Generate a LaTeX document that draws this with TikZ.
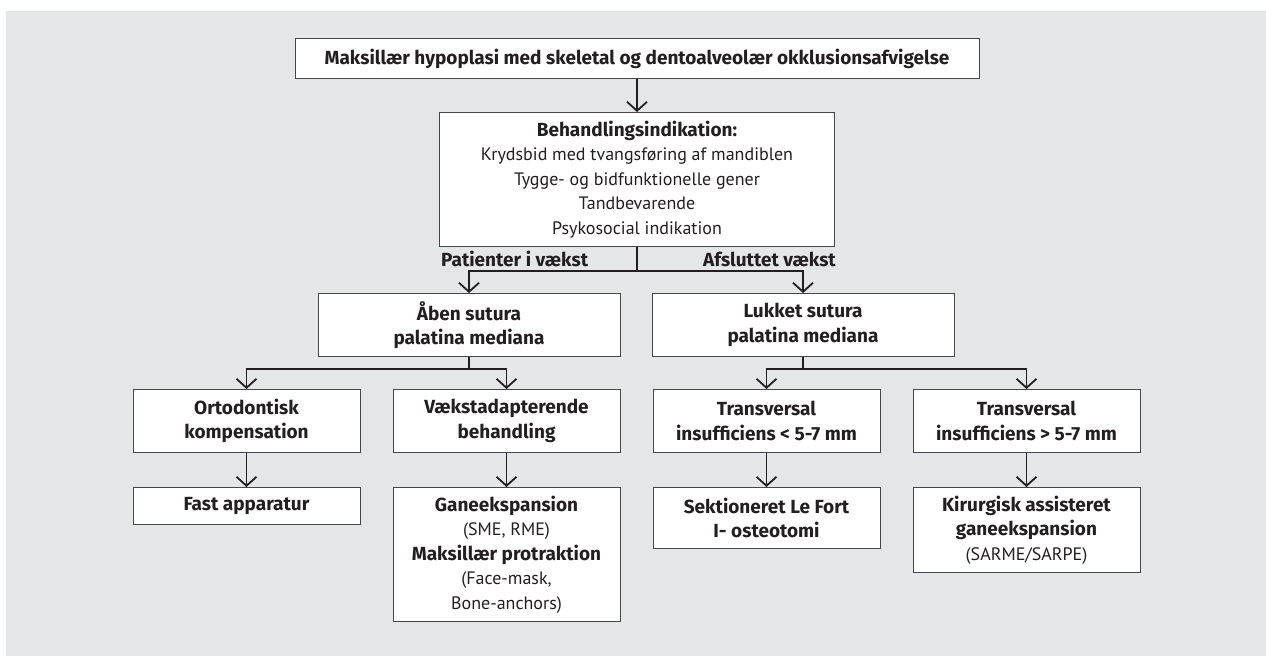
\documentclass[tikz,border=0pt]{standalone}
\usepackage{fontspec}
\setmainfont{PT Sans}
\newfontfamily\strongfont{Fira Sans}
\usepackage{xcolor}
\usetikzlibrary{arrows.meta, positioning, calc}
\definecolor{bgcolor}{RGB}{229,230,232}
\definecolor{boxline}{RGB}{70,70,70}
\definecolor{inkcolor}{RGB}{35,31,32}
\newcommand{\headtext}[1]{{\fontsize{19}{24.5}\selectfont\strongfont\bfseries #1}}
\tikzstyle{arrow} = [line width=1.8pt, draw=inkcolor, -{Straight Barb[length=9pt,width=20pt]}]
\tikzstyle{branch} = [line width=1.8pt, draw=inkcolor]
\tikzstyle{box} = [rectangle, draw=boxline, fill=white, line width=1pt, text=inkcolor, align=center, anchor=north, font=\fontsize{18}{24.5}\selectfont]
\tikzstyle{strongbox} = [box, font=\fontsize{19}{24.5}\selectfont\strongfont\bfseries]
\tikzstyle{branchlabel} = [inner sep=0pt, text=inkcolor, font=\fontsize{19}{24.5}\selectfont\strongfont\bfseries]

\begin{document}
\begin{tikzpicture}[x=1pt, y=-1pt]

% Background
\useasboundingbox (0,0) rectangle (1266,656);
\fill[bgcolor] (6,11) rectangle (1266,656);

% Diagnosis and indication
\node[strongbox, minimum width=684pt, minimum height=40pt] (diagnose) at (637,38) {Maksillær hypoplasi med skeletal og dentoalveolær okklusionsafvigelse};
\node[box, minimum width=395pt, minimum height=134pt] (indikation) at (637,112) {\headtext{Behandlingsindikation:}\\Krydsbid med tvangsføring af mandiblen\\Tygge- og bidfunktionelle gener\\Tandbevarende\\Psykosocial indikation};

% Branch labels
\node[branchlabel, anchor=west] (growing) at (441,259) {Patienter i vækst};
\node[branchlabel, anchor=east] (grown) at (836,259) {Afsluttet vækst};

% Sutura boxes
\node[strongbox, minimum width=302pt, minimum height=63pt] (aaben) at (469,293) {Åben sutura\\palatina mediana};
\node[strongbox, minimum width=302pt, minimum height=63pt] (lukket) at (803,293) {Lukket sutura\\palatina mediana};

% Second level
\node[strongbox, minimum width=227pt, minimum height=63pt] (orto) at (246.5,389) {Ortodontisk\\kompensation};
\node[strongbox, minimum width=227pt, minimum height=63pt] (vaekst) at (506.5,389) {Vækstadapterende\\behandling};
\node[strongbox, minimum width=227pt, minimum height=63pt] (transA) at (766.5,389) {Transversal\\insufficiens < 5-7 mm};
\node[strongbox, minimum width=227pt, minimum height=63pt] (transB) at (1026.5,389) {Transversal\\insufficiens > 5-7 mm};

% Treatments
\node[strongbox, minimum width=227pt, minimum height=37pt] (fast) at (246.5,487) {Fast apparatur};
\node[box, minimum width=227pt, minimum height=134pt] (gane) at (506.5,487) {\headtext{Ganeekspansion}\\(SME, RME)\\\headtext{Maksillær protraktion}\\(Face-mask,\\Bone-anchors)};
\node[strongbox, minimum width=227pt, minimum height=61pt] (lefort) at (766.5,487) {Sektioneret Le Fort\\I- osteotomi};
\node[box, minimum width=227pt, minimum height=85pt] (kirurg) at (1026.5,487) {\headtext{Kirurgisk assisteret}\\\headtext{ganeekspansion}\\(SARME/SARPE)};

% Split points
\coordinate (split) at (637,271);
\coordinate (splitA) at (469,369);
\coordinate (splitB) at (803,369);

% Arrows
\draw[arrow] (diagnose) -- (indikation);
\draw[branch] (indikation) -- (split);
\draw[arrow] (split) -| (aaben);
\draw[arrow] (split) -| (lukket);
\draw[branch] (aaben) -- (splitA);
\draw[arrow] (splitA) -| (orto);
\draw[arrow] (splitA) -| (vaekst);
\draw[branch] (lukket) -- (splitB);
\draw[arrow] (splitB) -| (transA);
\draw[arrow] (splitB) -| (transB);
\draw[arrow] (orto) -- (fast);
\draw[arrow] (vaekst) -- (gane);
\draw[arrow] (transA) -- (lefort);
\draw[arrow] (transB) -- (kirurg);

\end{tikzpicture}
\end{document}
